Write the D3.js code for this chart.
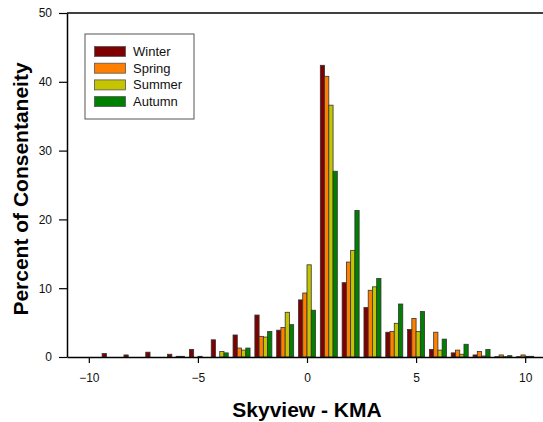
<!DOCTYPE html>
<html>
<head>
<meta charset="utf-8">
<script src="https://cdn.jsdelivr.net/npm/d3@7"></script>
<style>
  body { margin: 0; background: #fff; }
  svg { display: block; font-family: 'Liberation Sans', Arial, sans-serif; }
</style>
</head>
<body>
<svg id="chart" width="543" height="422"></svg>
<script>
// difference bins (Skyview - KMA)
const bins = [-10, -9, -8, -7, -6, -5, -4, -3, -2, -1, 0, 1, 2, 3, 4, 5, 6, 7, 8, 9, 10]
const seasons = ['Winter', 'Spring', 'Summer', 'Autumn']
const colors = ['#7f0000', '#ff8000', '#c4c400', '#008000']

// percent per bin, one list per season
const winter = [0, 0.5, 0.3, 0.7, 0.4, 1.1, 2.5, 3.2, 6.1, 3.9, 8.3, 42.4, 10.8, 7.2, 3.6, 4.0, 1.1, 0.6, 0.3, 0.05, 0.05]
const spring = [0, 0, 0, 0, 0, 0, 0, 1.3, 3.0, 4.3, 9.3, 40.8, 13.8, 9.7, 3.7, 5.6, 3.6, 1.0, 0.8, 0.3, 0.3]
const summer = [0, 0, 0, 0, 0.1, 0.1, 0.8, 1.0, 2.9, 6.5, 13.4, 36.6, 15.5, 10.2, 4.9, 3.7, 1.0, 0.4, 0.15, 0.05, 0.1]
const autumn = [0, 0, 0, 0, 0.1, 0, 0.6, 1.3, 3.7, 4.7, 6.8, 27.0, 21.3, 11.4, 7.7, 6.6, 2.6, 1.85, 1.1, 0.2, 0.1]

const xTicks = [-10, -5, 0, 5, 10]
const yTicks = [0, 10, 20, 30, 40, 50]

const series = [winter, spring, summer, autumn]
const svg = d3.select('#chart')

const x = d3.scaleLinear().domain([-11, 11]).range([67, 547])
const y = d3.scaleLinear().domain([0, 50]).range([357, 13])
// bars of one bin sit side by side
const inner = d3.scaleBand().domain(seasons).range([-8.5, 8.5])

// bars
const rows = []
bins.forEach((b, i) => {
  series.forEach((s, k) => {
    if (s[i] > 0) rows.push({ bin: b, season: seasons[k], value: s[i], color: colors[k] })
  })
})

svg.append('g')
  .selectAll('rect')
  .data(rows)
  .enter()
  .append('rect')
  .attr('x', function (d) { return x(d.bin) + inner(d.season) })
  .attr('y', function (d) { return y(d.value) })
  .attr('width', inner.bandwidth())
  .attr('height', function (d) { return y(0) - y(d.value) })
  .attr('fill', function (d) { return d.color })
  .attr('stroke', '#333')
  .attr('stroke-width', 0.8)

// axes
const xAxis = svg.append('g')
  .attr('transform', 'translate(0,' + y(0) + ')')
  .call(d3.axisBottom(x).tickValues(xTicks).tickSize(6).tickPadding(10).tickSizeOuter(0))
const yAxis = svg.append('g')
  .attr('transform', 'translate(' + x(-11) + ',0)')
  .call(d3.axisLeft(y).tickValues(yTicks).tickSize(8).tickPadding(7).tickSizeOuter(0))

;[xAxis, yAxis].forEach(function (a) {
  a.select('.domain').attr('stroke', '#000').attr('stroke-width', 1.5)
  a.selectAll('.tick line').attr('stroke', '#000').attr('stroke-width', 1.2)
  a.selectAll('.tick text').attr('fill', '#111').style('font-size', '12px')
    .style('font-family', "'Liberation Sans', Arial, sans-serif")
})

// top frame line
svg.append('line')
  .attr('x1', x(-11)).attr('x2', x(11))
  .attr('y1', y(50)).attr('y2', y(50))
  .attr('stroke', '#000').attr('stroke-width', 1.5)

// axis titles
svg.append('text')
  .attr('x', x(0)).attr('y', 417)
  .attr('text-anchor', 'middle')
  .style('font-size', '21px').style('font-weight', 'bold')
  .text('Skyview - KMA')

svg.append('text')
  .attr('transform', 'translate(28,189) rotate(-90)')
  .attr('text-anchor', 'middle')
  .style('font-size', '21px').style('font-weight', 'bold')
  .text('Percent of Consentaneity')

// legend
const lg = svg.append('g').attr('transform', 'translate(85,34)')
lg.append('rect')
  .attr('width', 109).attr('height', 85)
  .attr('fill', '#fff').attr('stroke', '#555').attr('stroke-width', 1)
seasons.forEach(function (s, i) {
  lg.append('rect')
    .attr('x', 9.5).attr('y', 12.5 + i * 16.7)
    .attr('width', 31).attr('height', 10)
    .attr('fill', colors[i]).attr('stroke', '#555').attr('stroke-width', 0.8)
  lg.append('text')
    .attr('x', 48).attr('y', 22 + i * 16.7)
    .style('font-size', '13px').attr('fill', '#111')
    .text(s)
})
</script>
</body>
</html>
